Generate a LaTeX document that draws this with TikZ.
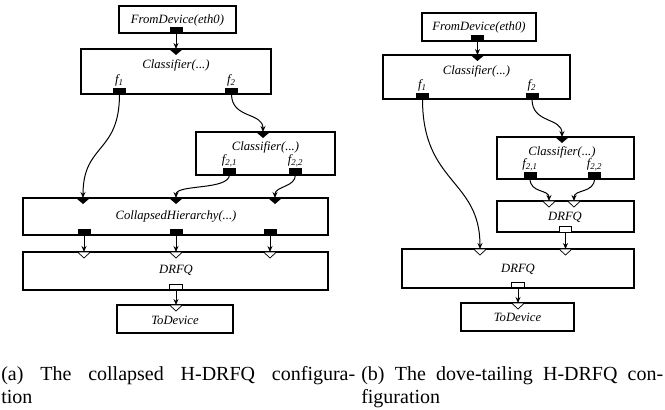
\documentclass[tikz,border=0pt]{standalone}
\usepackage{fontspec}
\setmainfont{Liberation Serif}
\usetikzlibrary{arrows.meta,fit}
\newcommand{\boxfnt}{\fontsize{9.5}{11}\selectfont\itshape}
\newcommand{\capfnt}{\fontsize{15}{17}\selectfont}
\begin{document}
\begin{tikzpicture}[x=0.75pt,y=-0.75pt,
  box/.style={draw, line width=0.8pt, inner sep=0pt, outer sep=0pt},
  lbl/.style={font=\boxfnt, inner sep=0pt},
  oport/.style={fill=black, minimum width=9.75pt, minimum height=4.5pt, inner sep=0pt, outer sep=0pt},
  hport/.style={draw=black, fill=white, line width=0.6pt, minimum width=9.2pt, minimum height=4pt, inner sep=0pt, outer sep=0pt},
  conn/.style={line width=0.75pt, -{Stealth[length=4.5pt,width=3.8pt]}},
  pushin/.pic={\fill (-7,0) -- (7,0) -- (0,6) -- cycle;},
  pullin/.pic={\filldraw[fill=white, line width=0.55pt] (-6.5,0) -- (6.5,0) -- (0,6) -- cycle;},
  captxt/.style={anchor=base west, inner sep=0pt, font=\capfnt}
]
\useasboundingbox (0,0) rectangle (665,410);

% ================= left diagram =================
\node[box, fit={(119,6) (236,33)}] (fd1) {};
\node[lbl] (fd1t) at (177.5,20) {FromDevice(eth0)};
\node[box, fit={(81,49) (271,94)}] (cl1) {};
\node[lbl] (cl1t) at (176,65) {Classifier(...)};
\node[box, fit={(196,132) (335,175)}] (cl2) {};
\node[lbl] (cl2t) at (265.5,147) {Classifier(...)};
\node[box, fit={(23,198) (328,235)}] (ch) {};
\node[lbl] (cht) at (176,216) {CollapsedHierarchy(...)};
\node[box, fit={(23,252) (328,290)}] (dr1) {};
\node[lbl] (dr1t) at (176,270) {DRFQ};
\node[box, fit={(117,305) (233,333)}] (td1) {};
\node[lbl] (td1t) at (175,320) {ToDevice};

% output ports
\node[oport] (fd1o) at (176,30.5) {};
\node[oport] (c1f1) at (119.5,91) {};
\node[oport] (c1f2) at (231.5,91) {};
\node[oport] (c2f1) at (229.5,171.5) {};
\node[oport] (c2f2) at (295.5,171.5) {};
\node[oport] (cho1) at (84,232) {};
\node[oport] (cho2) at (176,232) {};
\node[oport] (cho3) at (270,232) {};
\node[hport] (dr1o) at (176,287) {};

% port labels
\node[lbl, anchor=south] (l1) at ([yshift=1pt]c1f1.north) {\textit{f}\textsubscript{1}};
\node[lbl, anchor=south] (l2) at ([yshift=1pt]c1f2.north) {\textit{f}\textsubscript{2}};
\node[lbl, anchor=south] (l3) at ([yshift=1pt]c2f1.north) {\textit{f}\textsubscript{2,1}};
\node[lbl, anchor=south] (l4) at ([yshift=1pt]c2f2.north) {\textit{f}\textsubscript{2,2}};

% input points
\coordinate (cl1i) at (176,49);
\coordinate (cl2i) at (263,132);
\coordinate (chi1) at (83,198);
\coordinate (chi2) at (176,198);
\coordinate (chi3) at (275,198);
\coordinate (dri1) at (84,252);
\coordinate (dri2) at (176,252);
\coordinate (dri3) at (270,252);
\coordinate (tdi1) at (176,305);

\foreach \c in {cl1i,cl2i,chi1,chi2,chi3} {\pic at (\c) {pushin};}
\foreach \c in {dri1,dri2,dri3,tdi1} {\pic at (\c) {pullin};}

\draw[conn] (fd1o.south) -- (cl1i);
\draw[conn] (c1f1.south) .. controls +(0,60) and +(0,-55) .. (chi1);
\draw[conn] (c1f2.south) .. controls +(0,25) and +(0,-20) .. (cl2i);
\draw[conn] (c2f1.south) .. controls +(0,16) and +(0,-14) .. (chi2);
\draw[conn] (c2f2.south) .. controls +(0,13) and +(0,-12) .. (chi3);
\draw[conn] (cho1.south) -- (dri1);
\draw[conn] (cho2.south) -- (dri2);
\draw[conn] (cho3.south) -- (dri3);
\draw[conn] (dr1o.south) -- (tdi1);

% ================= right diagram =================
\node[box, fit={(422,13) (536,41)}] (fd2) {};
\node[lbl] (fd2t) at (479,27) {FromDevice(eth0)};
\node[box, fit={(383,55) (570,99)}] (cl3) {};
\node[lbl] (cl3t) at (476.5,71) {Classifier(...)};
\node[box, fit={(497,137) (634,179)}] (cl4) {};
\node[lbl] (cl4t) at (562,152) {Classifier(...)};
\node[box, fit={(497,201) (634,232)}] (dr2) {};
\node[lbl] (dr2t) at (565,217) {DRFQ};
\node[box, fit={(402,249) (634,288)}] (dr3) {};
\node[lbl] (dr3t) at (518,269) {DRFQ};
\node[box, fit={(461,303) (574,331)}] (td2) {};
\node[lbl] (td2t) at (517.5,317) {ToDevice};

\node[oport] (fd2o) at (477.5,38) {};
\node[oport] (c3f1) at (422.5,96) {};
\node[oport] (c3f2) at (532,96) {};
\node[oport] (c4f1) at (530,175.5) {};
\node[oport] (c4f2) at (594.5,175.5) {};
\node[hport] (dr2o) at (565.5,229.5) {};
\node[hport] (dr3o) at (518,285) {};

\node[lbl, anchor=south] (l5) at ([yshift=1pt]c3f1.north) {\textit{f}\textsubscript{1}};
\node[lbl, anchor=south] (l6) at ([yshift=1pt]c3f2.north) {\textit{f}\textsubscript{2}};
\node[lbl, anchor=south] (l7) at ([yshift=1pt]c4f1.north) {\textit{f}\textsubscript{2,1}};
\node[lbl, anchor=south] (l8) at ([yshift=1pt]c4f2.north) {\textit{f}\textsubscript{2,2}};

\coordinate (cl3i) at (477.5,55);
\coordinate (cl4i) at (562,137);
\coordinate (dr2i1) at (549,201);
\coordinate (dr2i2) at (574,201);
\coordinate (dr3i1) at (480,249);
\coordinate (dr3i2) at (565.5,249);
\coordinate (td2i) at (518,303);

\foreach \c in {cl3i,cl4i} {\pic at (\c) {pushin};}
\foreach \c in {dr2i1,dr2i2,dr3i1,dr3i2,td2i} {\pic at (\c) {pullin};}

\draw[conn] (fd2o.south) -- (cl3i);
\draw[conn] (c3f1.south) .. controls +(0,85) and +(0,-70) .. (dr3i1);
\draw[conn] (c3f2.south) .. controls +(0,25) and +(0,-20) .. (cl4i);
\draw[conn] (c4f1.south) .. controls +(0,15) and +(0,-12) .. (dr2i1);
\draw[conn] (c4f2.south) .. controls +(0,15) and +(0,-12) .. (dr2i2);
\draw[conn] (dr2o.south) -- (dr3i2);
\draw[conn] (dr3o.south) -- (td2i);

% ================= captions =================
\node[captxt] (capa1) at (1,380) {\makebox[265.5pt][s]{(a) The collapsed H-DRFQ configura-}};
\node[captxt] (capa2) at (1,403) {tion};
\node[captxt] (capb1) at (361,380) {\makebox[226.5pt][s]{(b) The dove-tailing H-DRFQ con-}};
\node[captxt] (capb2) at (361,403) {figuration};
\end{tikzpicture}
\end{document}
